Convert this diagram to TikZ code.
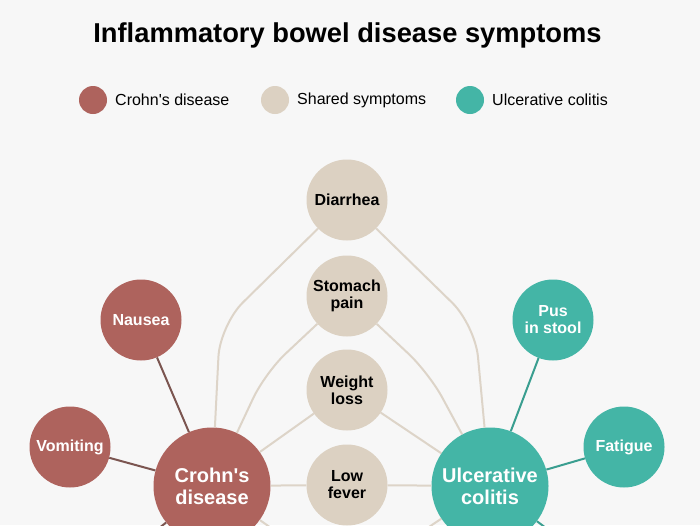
\documentclass[tikz,border=0pt]{standalone}
\usepackage{fontspec}
\setmainfont{Liberation Sans}
\definecolor{bg}{HTML}{F7F7F7}
\definecolor{crfill}{HTML}{AE635D}
\definecolor{crline}{HTML}{7B5550}
\definecolor{ucfill}{HTML}{44B5A6}
\definecolor{ucline}{HTML}{3A9E90}
\definecolor{shfill}{HTML}{DCD1C2}
\definecolor{shline}{HTML}{DDD4C8}
\tikzset{
  bubble/.style={circle, inner sep=0pt, align=center, font=\fontsize{16}{17}\selectfont\bfseries},
  crsmall/.style={bubble, fill=crfill, text=white, minimum size=81pt},
  ucsmall/.style={bubble, fill=ucfill, text=white, minimum size=81pt},
  shsmall/.style={bubble, fill=shfill, text=black, minimum size=81pt},
  bigbub/.style={bubble, minimum size=117pt, text=white, font=\fontsize{20}{22}\selectfont\bfseries},
  crlink/.style={draw=crline, line width=2pt},
  uclink/.style={draw=ucline, line width=2pt},
  shlink/.style={draw=shline, line width=2pt},
  legdot/.style={circle, inner sep=0pt, minimum size=28pt},
  legtxt/.style={anchor=west, inner sep=0pt, font=\fontsize{16}{18}\selectfont}
}
\begin{document}
\begin{tikzpicture}[x=1pt, y=-1pt]
\useasboundingbox (0,0) rectangle (700,525);
\fill[bg] (0,0) rectangle (700,525);
\clip (0,0) rectangle (700,525);

% title
\node[font=\fontsize{27.3}{30}\selectfont\bfseries] (title) at (347.5,35) {Inflammatory bowel disease symptoms};

% legend
\node[legdot, fill=crfill] (lg1) at (93,100) {};
\node[legtxt] (lt1) at (115,100) {Crohn\textquotesingle s disease};
\node[legdot, fill=shfill] (lg2) at (275,100) {};
\node[legtxt] (lt2) at (297,100) {Shared symptoms};
\node[legdot, fill=ucfill] (lg3) at (470,100) {};
\node[legtxt] (lt3) at (492,100) {Ulcerative colitis};

% coordinates for off-picture ends
\coordinate (hidL) at (65,603);
\coordinate (hidM) at (347,582);
\coordinate (hidR) at (646,603);

% nodes
\node[shsmall] (dia) at (347,200) {Diarrhea};
\node[shsmall] (sto) at (347,296) {Stomach\\pain};
\node[shsmall] (wei) at (347,390) {Weight\\loss};
\node[shsmall] (low) at (347,485) {Low\\fever};
\node[crsmall] (nau) at (141,320) {Nausea};
\node[crsmall] (vom) at (70,447) {Vomiting};
\node[bigbub, fill=crfill] (cro) at (212,486) {Crohn\textquotesingle s\\disease};
\node[ucsmall] (pus) at (553,320) {Pus\\in stool};
\node[ucsmall] (fat) at (624,447) {Fatigue};
\node[bigbub, fill=ucfill] (ulc) at (490,486) {Ulcerative\\colitis};

% connectors
\draw[crlink] (nau) -- (cro);
\draw[crlink] (vom) -- (cro);
\draw[crlink] (cro) -- (hidL);
\draw[uclink] (pus) -- (ulc);
\draw[uclink] (fat) -- (ulc);
\draw[uclink] (ulc) -- (hidR);
\draw[shlink, rounded corners=32pt] (dia) -- (220,325) -- (cro);
\draw[shlink, rounded corners=32pt] (dia) -- (475,325) -- (ulc);
\draw[shlink, rounded corners=28pt] (sto) -- (265,373) -- (cro);
\draw[shlink, rounded corners=28pt] (sto) -- (429,373) -- (ulc);
\draw[shlink] (wei) -- (cro);
\draw[shlink] (wei) -- (ulc);
\draw[shlink] (low) -- (cro);
\draw[shlink] (low) -- (ulc);
\draw[shlink] (cro) -- (hidM);
\draw[shlink] (ulc) -- (hidM);
\end{tikzpicture}
\end{document}
